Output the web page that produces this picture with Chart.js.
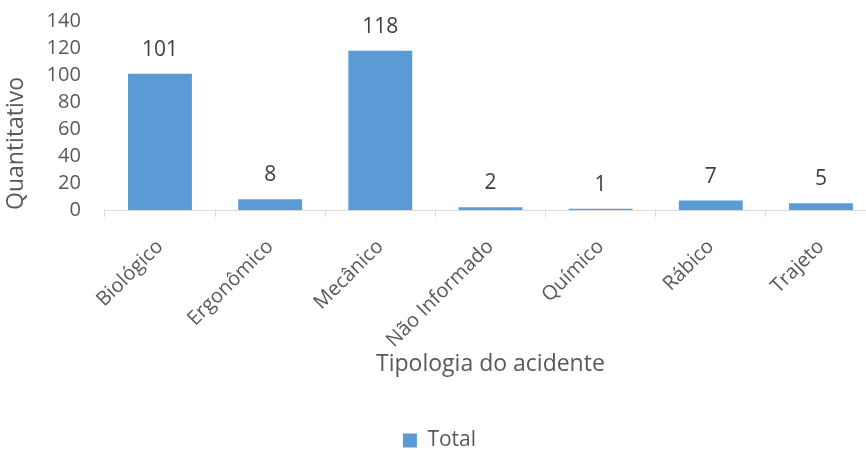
<!DOCTYPE html>
<html>
<head>
<meta charset="utf-8">
<script src="https://cdn.jsdelivr.net/npm/chart.js@4/dist/chart.umd.min.js"></script>
<style>
  body { margin: 0; background: #fff; }
  #wrap { width: 866px; height: 450px; overflow: hidden; }
</style>
</head>
<body>
<div id="wrap"><canvas id="myChart" width="876" height="450"></canvas></div>
<script>
// Tipologia do acidente
const categories = ['Biológico', 'Ergonômico', 'Mecânico', 'Não Informado', 'Químico', 'Rábico', 'Trajeto'];
const totals = [101, 8, 118, 2, 1, 7, 5];
const yTicks = [0, 20, 40, 60, 80, 100, 120, 140];

const textColor = '#595959';
const fontFamily = "'Open Sans', 'Noto Sans', sans-serif";

// draw values above bars
const valueLabels = {
    id: 'valueLabels',
    afterDatasetsDraw(chart) {
        const ctx = chart.ctx;
        ctx.save();
        ctx.font = '21px ' + fontFamily;
        ctx.fillStyle = '#404040';
        ctx.textAlign = 'center';
        ctx.textBaseline = 'alphabetic';
        chart.getDatasetMeta(0).data.forEach((bar, i) => {
            ctx.fillText(totals[i], bar.x, bar.y - 18);
        });
        ctx.restore();
    }
};

const data = {
    labels: categories,
    datasets: [{
        label: 'Total',
        backgroundColor: '#5b9bd5',
        borderColor: '#5b9bd5',
        data: totals,
        barPercentage: 0.58,
        categoryPercentage: 1
    }]
};

const config = {
    type: 'bar',
    data: data,
    plugins: [valueLabels],
    options: {
        responsive: false,
        animation: false,
        layout: { padding: { top: 21, right: 0, left: 3, bottom: -11 } },
        plugins: {
            legend: {
                position: 'bottom',
                labels: {
                    boxWidth: 14,
                    boxHeight: 14,
                    color: textColor,
                    font: { family: fontFamily, size: 21 },
                    padding: 0
                }
            },
            tooltip: { enabled: false }
        },
        scales: {
            x: {
                afterFit(axis) {
                    // the rotated labels should not push the plot edges in
                    axis.paddingRight = 0;
                    axis.paddingLeft = 0;
                },
                grid: { display: true, drawOnChartArea: false, offset: true, tickLength: 7, color: '#d9d9d9' },
                border: { color: '#d9d9d9' },
                ticks: {
                    color: textColor,
                    font: { family: fontFamily, size: 20 },
                    maxRotation: 45,
                    minRotation: 45,
                    autoSkip: false,
                    padding: 18
                },
                title: {
                    display: true,
                    text: 'Tipologia do acidente',
                    color: textColor,
                    font: { family: fontFamily, size: 23 },
                    padding: { top: -3, bottom: 52 }
                }
            },
            y: {
                min: 0,
                max: 140,
                afterBuildTicks(axis) {
                    axis.ticks = yTicks.map(v => ({ value: v }));
                },
                afterFit(axis) {
                    axis.paddingTop = 0;
                },
                grid: { display: false },
                border: { display: false },
                ticks: {
                    color: textColor,
                    font: { family: fontFamily, size: 20 },
                    autoSkip: false,
                    padding: 16
                },
                title: {
                    display: true,
                    text: 'Quantitativo',
                    align: 'start',
                    color: textColor,
                    font: { family: fontFamily, size: 23 },
                    padding: { top: 0, bottom: 0 }
                }
            }
        }
    }
};

let myChart = new Chart(document.getElementById('myChart'), config);
</script>
</body>
</html>
